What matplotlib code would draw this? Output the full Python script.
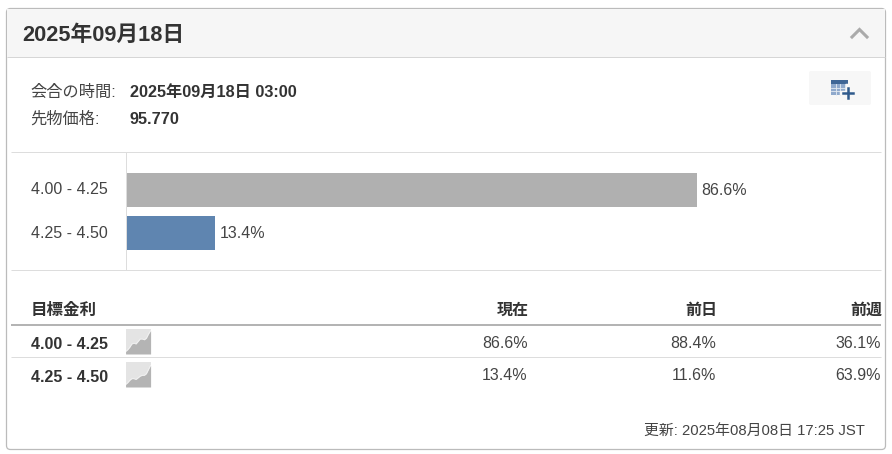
import matplotlib
matplotlib.use("Agg")
import matplotlib.pyplot as plt
from matplotlib.patches import FancyBboxPatch, Rectangle

plt.rcParams['font.family'] = ['Liberation Sans', 'Noto Sans CJK JP', 'DejaVu Sans']

title = "2025年09月18日"
meeting_label = "会合の時間:"
meeting_value = "2025年09月18日 03:00"
price_label = "先物価格:"
price_value = "95.770"
categories = ["4.00 - 4.25", "4.25 - 4.50"]
current = [86.6, 13.4]
previous_day = [88.4, 11.6]
previous_week = [36.1, 63.9]
headers = ["目標金利", "現在", "前日", "前週"]
updated = "更新: 2025年08月08日 17:25 JST"
spark_a = [3, 5, 8, 12, 13, 12, 15, 18, 18, 17, 19, 24, 28]
spark_b = [3, 5, 8, 10, 10, 9, 11, 13, 14, 14, 16, 21, 26]
bar_colors = ["#b0b0b0", "#5f85b0"]

W, H = 892, 454
fig = plt.figure(figsize=(W / 100, H / 100), dpi=100)
bg = fig.add_axes([0, 0, 1, 1])
bg.set_xlim(0, W)
bg.set_ylim(H, 0)
bg.axis("off")

def px(v):
    return v * 0.72

def txt(x, y, s, size, color="#333333", weight="normal", ha="left"):
    bg.text(x, y, s, fontsize=px(size), color=color, fontweight=weight,
            ha=ha, va="center_baseline")

def hline(y, x0=11, x1=881, color="#dddddd", lw=1.0):
    bg.plot([x0, x1], [y, y], color=color, lw=lw * 0.72, solid_capstyle="butt")

# card and header
bg.add_patch(FancyBboxPatch((6.5, 8.5), 879, 441, boxstyle="round,pad=0,rounding_size=4",
                            fc="white", ec="#bbbbbb", lw=0.9))
bg.add_patch(Rectangle((7, 9), 878, 48, fc="#f6f6f6", ec="none"))
hline(57, 7, 885, "#d6d6d6")
txt(22.5, 33, title, 21.8, weight="bold")
bg.plot([852, 859.5, 867], [37, 29.5, 37], color="#aaaaaa", lw=2.2, solid_joinstyle="miter")

# meta rows
txt(30.5, 90.5, meeting_label, 16.2, "#444444")
txt(130, 90.5, meeting_value, 16.2, weight="bold")
txt(30.5, 117.5, price_label, 16.2, "#444444")
txt(130, 117.5, price_value, 16.2, weight="bold")

# calendar button
bg.add_patch(FancyBboxPatch((809, 71), 62, 34, boxstyle="round,pad=0,rounding_size=2",
                            fc="#f7f7f7", ec="none"))
bg.add_patch(Rectangle((831, 80), 17, 15, fc="#8fa9cc", ec="none"))
bg.add_patch(Rectangle((831, 80), 17, 3.5, fc="#3f6696", ec="none"))
for gx in (835.5, 840, 844.5):
    bg.plot([gx, gx], [84, 95], color="#e4ebf3", lw=0.6)
for gy in (87.5, 91):
    bg.plot([831, 848], [gy, gy], color="#e4ebf3", lw=0.6)
bg.plot([847.5, 847.5], [86, 99], color="#f7f7f7", lw=3.2)
bg.plot([842, 853], [93, 93], color="#f7f7f7", lw=3.2)
bg.plot([847.5, 847.5], [88, 98], color="#2f5a8c", lw=1.8)
bg.plot([843, 853], [93, 93], color="#2f5a8c", lw=1.8)

# bar section
hline(152)
hline(270)
bg.plot([126, 126], [152, 270], color="#dddddd", lw=0.72)
for c, y in zip(categories, (188.5, 232)):
    txt(31, y, c, 16, "#444444")

scale = 570 / 86.6
ax = fig.add_axes([126.6 / W, 1 - 270 / H, (881 - 126.6) / W, 117 / H])
ax.set_xlim(0, (881 - 126.6) / scale)
ax.set_ylim(270, 153)
ax.axis("off")
ax.patch.set_alpha(0)
centers = [190, 233]
ax.barh(centers, current, height=34, color=bar_colors, linewidth=0)
for c, v in zip(centers, current):
    ax.annotate(f"{v}%", (v, c - 1), xytext=(3.4, 0), textcoords="offset points",
                fontsize=px(16), color="#444444", va="center_baseline")

# table
txt(31, 309, headers[0], 16.5, weight="bold")
cols = [527.5, 716.5, 881]
for x, h in zip(cols, headers[1:]):
    txt(x + 1, 309, h, 16, weight="bold", ha="right")
hline(325, color="#b4b4b4", lw=2)
hline(357)

for c, a, b, d, y, spark, sy in zip(categories, current, previous_day, previous_week,
                                    (343, 376), (spark_a, spark_b), (329, 362)):
    txt(31, y, c, 16, weight="bold")
    for x, v in zip(cols, (a, b, d)):
        txt(x, y - 1.5 if sy == 329 else y - 2.5, f"{v}%", 16, "#444444", ha="right")
    sa = fig.add_axes([125.6 / W, 1 - (sy + 25) / H, 25 / W, 25 / H])
    sa.set_facecolor("#e4e4e4")
    sa.set_xlim(0, len(spark) - 1)
    sa.set_ylim(0, 30)
    sa.set_xticks([]); sa.set_yticks([])
    for s in sa.spines.values():
        s.set_visible(False)
    sa.fill_between(range(len(spark)), spark, 0, color="#b4b4b4", lw=0)
    sa.plot(range(len(spark)), spark, color="#f2f2f2", lw=0.6)

txt(865, 430.5, updated, 14.85, "#444444", ha="right")

fig.savefig("out.png", dpi=100, facecolor="white")
